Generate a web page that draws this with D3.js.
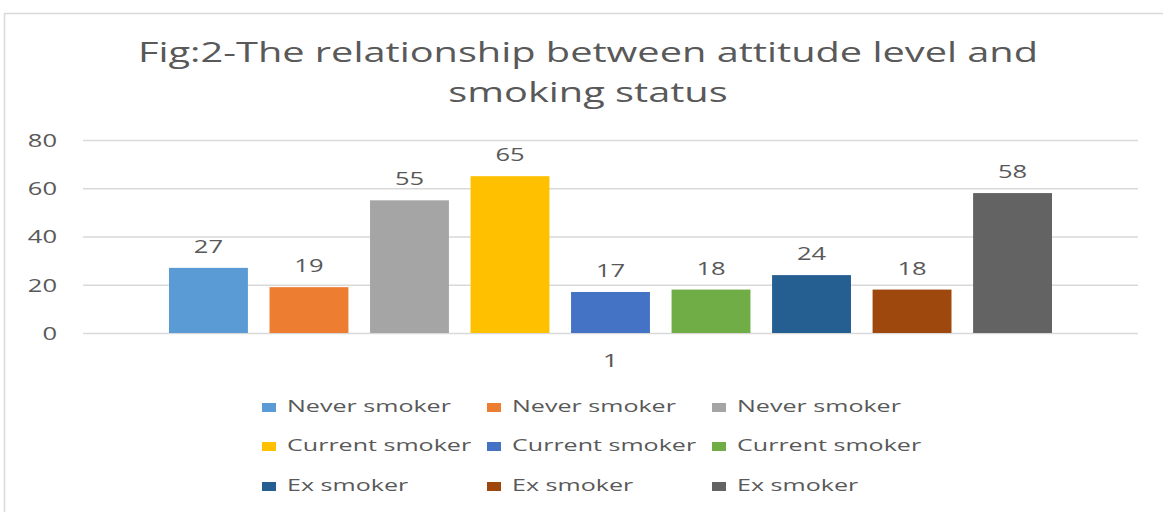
<!DOCTYPE html>
<html>
<head>
<meta charset="utf-8">
<script src="https://cdn.jsdelivr.net/npm/d3@7"></script>
<style>
  body { margin: 0; background: #fff; }
  text { font-family: "Open Sans", sans-serif; fill: #595959; }
</style>
</head>
<body>
<div id="chart"></div>
<script>
// data
var categories = ["1"];
var seriesNames = [
  "Never smoker", "Never smoker", "Never smoker",
  "Current smoker", "Current smoker", "Current smoker",
  "Ex smoker", "Ex smoker", "Ex smoker"
];
var seriesValues = [27, 19, 55, 65, 17, 18, 24, 18, 58];
var yTicks = [0, 20, 40, 60, 80];
var titleLines = ["Fig:2-The relationship between attitude level and", "smoking status"];

var colors = ["#5B9BD5", "#ED7D31", "#A5A5A5", "#FFC000", "#4472C4", "#70AD47", "#255E91", "#9E480E", "#636363"];

var width = 1163,
  height = 512,
  plotLeft = 83,
  plotRight = 1138,
  plotTop = 140,
  plotBottom = 333;

var svg = d3.select("#chart")
  .append("svg")
  .attr("width", width)
  .attr("height", height);

svg.append("rect")
  .attr("width", width).attr("height", height)
  .attr("fill", "#fff");

// chart frame
svg.append("rect")
  .attr("x", 4.5).attr("y", 13.5)
  .attr("width", width + 20).attr("height", height)
  .attr("fill", "none")
  .attr("stroke", "#d9d9d9")
  .attr("stroke-width", 1.5);

// stretch text horizontally (the picture is wider than tall)
function stretch(sel, k) {
  sel.each(function() {
    var t = d3.select(this);
    var x = +t.attr("x") || 0, y = +t.attr("y") || 0;
    t.attr("x", 0).attr("y", 0)
      .attr("transform", "translate(" + x + "," + y + ") scale(" + k + ",1)");
  });
}

var y = d3.scaleLinear()
  .domain([0, 80])
  .range([plotBottom, plotTop]);

var x0 = d3.scaleBand()
  .domain(categories)
  .range([plotLeft, plotRight])
  .paddingOuter(0.0974);

var x1 = d3.scaleBand()
  .domain(d3.range(seriesValues.length))
  .range([0, x0.bandwidth()])
  .paddingInner(0.215)
  .paddingOuter(0);

// gridlines + y axis
var yAxis = svg.append("g")
  .attr("transform", "translate(" + plotLeft + ",0)")
  .call(d3.axisLeft(y).tickValues(yTicks).tickSize(-(plotRight - plotLeft)).tickPadding(26));

yAxis.select(".domain").remove();
yAxis.selectAll(".tick line")
  .attr("stroke", "#d9d9d9")
  .attr("stroke-width", 1.5);
yAxis.selectAll(".tick text")
  .attr("font-size", 18)
  .attr("dy", "0.36em")
  .style("fill", "#595959");
stretch(yAxis.selectAll(".tick text"), 1.42);
yAxis.selectAll(".tick text").attr("text-anchor", "end");

// bars
var group = svg.append("g")
  .attr("transform", "translate(" + x0(categories[0]) + ",0)");

group.selectAll("rect.bar")
  .data(seriesValues)
  .enter()
  .append("rect")
  .attr("class", "bar")
  .attr("x", function(d, i) { return x1(i); })
  .attr("y", function(d) { return y(d); })
  .attr("width", x1.bandwidth())
  .attr("height", function(d) { return y(0) - y(d); })
  .attr("fill", function(d, i) { return colors[i]; });

// value labels
var valueLabels = group.selectAll("text.val")
  .data(seriesValues)
  .enter()
  .append("text")
  .attr("class", "val")
  .attr("x", function(d, i) { return x1(i) + x1.bandwidth() / 2; })
  .attr("y", function(d) { return y(d) - 15; })
  .attr("text-anchor", "middle")
  .attr("font-size", 18)
  .text(function(d) { return d; });
stretch(valueLabels, 1.42);

// category label
var catLabel = svg.append("text")
  .attr("x", x0(categories[0]) + x0.bandwidth() / 2)
  .attr("y", 367)
  .attr("text-anchor", "middle")
  .attr("font-size", 19)
  .text(categories[0]);
stretch(catLabel, 1.42);

// title
var title = svg.selectAll("text.title")
  .data(titleLines)
  .enter()
  .append("text")
  .attr("class", "title")
  .attr("x", 588)
  .attr("y", function(d, i) { return 62 + i * 40; })
  .attr("text-anchor", "middle")
  .attr("font-size", 28)
  .text(function(d) { return d; });
var titleK = 900 / title.node().getComputedTextLength();
stretch(title, titleK);

// legend
var legendCols = [262, 487, 712],
  legendRows = [412, 451, 491];

var legend = svg.selectAll("g.legend")
  .data(seriesNames)
  .enter()
  .append("g")
  .attr("class", "legend")
  .attr("transform", function(d, i) {
    return "translate(" + legendCols[i % 3] + "," + legendRows[Math.floor(i / 3)] + ")";
  });

legend.append("rect")
  .attr("x", 0)
  .attr("y", -9)
  .attr("width", 14)
  .attr("height", 9)
  .attr("fill", function(d, i) { return colors[i]; });

var legendText = legend.append("text")
  .attr("x", 25)
  .attr("y", 0)
  .attr("font-size", 17)
  .text(function(d) { return d; });
var legendK = 164 / legendText.node().getComputedTextLength();
stretch(legendText, legendK);
</script>
</body>
</html>
